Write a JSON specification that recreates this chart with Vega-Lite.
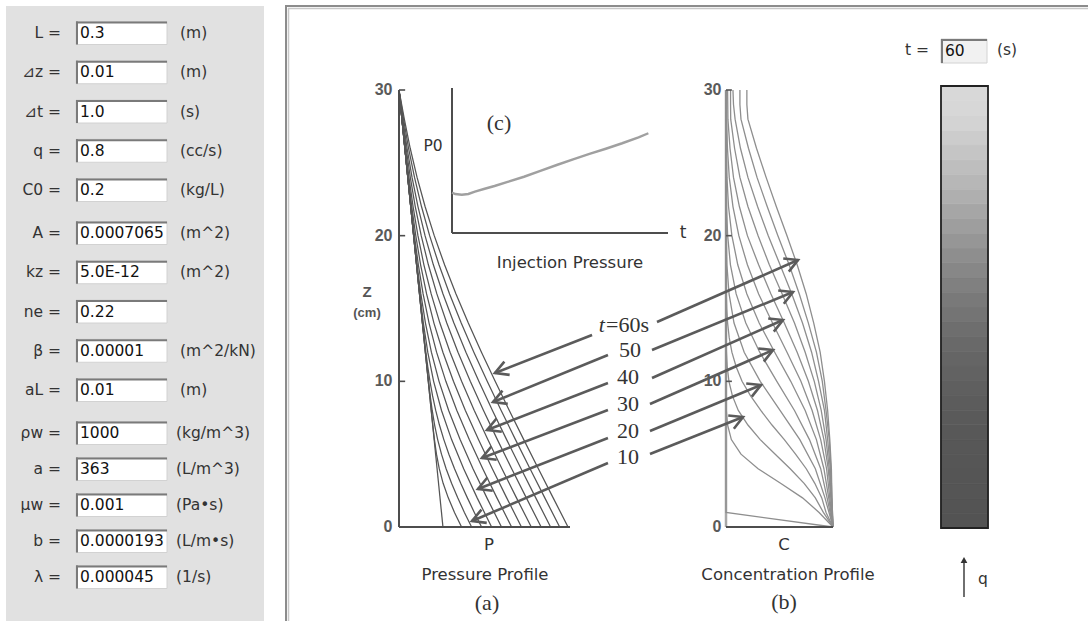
{
"$schema":"https://vega.github.io/schema/vega-lite/v6.json",
"width":1088,"height":621,"padding":0,"autosize":{"type":"none"},
"background":"#ffffff",
"config":{"view":{"stroke":null},"axis":{"disable":true},"legend":{"disable":true}},
"data":{"values":[{}]},
"datasets":{
"form":[
{"g":1,"i":0,"lab":"L  =","val":"0.3","unit":"(m)"},
{"g":1,"i":1,"lab":"⊿z =","val":"0.01","unit":"(m)"},
{"g":1,"i":2,"lab":"⊿t =","val":"1.0","unit":"(s)"},
{"g":1,"i":3,"lab":"q =","val":"0.8","unit":"(cc/s)"},
{"g":1,"i":4,"lab":"C0 =","val":"0.2","unit":"(kg/L)"},
{"g":2,"i":0,"lab":"A =","val":"0.0007065","unit":"(m^2)"},
{"g":2,"i":1,"lab":"kz =","val":"5.0E-12","unit":"(m^2)"},
{"g":2,"i":2,"lab":"ne =","val":"0.22","unit":""},
{"g":2,"i":3,"lab":"β  =","val":"0.00001","unit":"(m^2/kN)"},
{"g":2,"i":4,"lab":"aL =","val":"0.01","unit":"(m)"},
{"g":3,"i":0,"lab":"ρw =","val":"1000","unit":"(kg/m^3)"},
{"g":3,"i":1,"lab":"a =","val":"363","unit":"(L/m^3)"},
{"g":3,"i":2,"lab":"μw =","val":"0.001","unit":"(Pa•s)"},
{"g":3,"i":3,"lab":"b =","val":"0.0000193","unit":"(L/m•s)"},
{"g":3,"i":4,"lab":"λ  =","val":"0.000045","unit":"(1/s)"}
],
"pressure":[
{"t":0,"z":30,"p":0},{"t":0,"z":0,"p":25.7},
{"t":5,"z":30,"p":0},{"t":5,"z":9,"p":18.0},{"t":5,"z":8,"p":18.86},{"t":5,"z":7,"p":19.75},{"t":5,"z":6,"p":20.72},{"t":5,"z":5,"p":21.91},{"t":5,"z":4,"p":23.54},{"t":5,"z":3,"p":25.81},{"t":5,"z":2,"p":28.82},{"t":5,"z":1,"p":32.45},{"t":5,"z":0,"p":36.59},
{"t":10,"z":30,"p":0},{"t":10,"z":13,"p":14.57},{"t":10,"z":12,"p":15.43},{"t":10,"z":11,"p":16.32},{"t":10,"z":10,"p":17.24},{"t":10,"z":9,"p":18.25},{"t":10,"z":8,"p":19.42},{"t":10,"z":7,"p":20.84},{"t":10,"z":6,"p":22.61},{"t":10,"z":5,"p":24.84},{"t":10,"z":4,"p":27.55},{"t":10,"z":3,"p":30.74},{"t":10,"z":2,"p":34.34},{"t":10,"z":1,"p":38.25},{"t":10,"z":0,"p":42.46},
{"t":15,"z":30,"p":0},{"t":15,"z":17,"p":11.14},{"t":15,"z":16,"p":12.0},{"t":15,"z":15,"p":12.88},{"t":15,"z":14,"p":13.77},{"t":15,"z":13,"p":14.71},{"t":15,"z":12,"p":15.71},{"t":15,"z":11,"p":16.83},{"t":15,"z":10,"p":18.12},{"t":15,"z":9,"p":19.64},{"t":15,"z":8,"p":21.47},{"t":15,"z":7,"p":23.65},{"t":15,"z":6,"p":26.22},{"t":15,"z":5,"p":29.17},{"t":15,"z":4,"p":32.48},{"t":15,"z":3,"p":36.10},{"t":15,"z":2,"p":39.99},{"t":15,"z":1,"p":44.05},{"t":15,"z":0,"p":48.30},
{"t":20,"z":30,"p":0},{"t":20,"z":22,"p":6.86},{"t":20,"z":20,"p":8.58},{"t":20,"z":18,"p":10.33},{"t":20,"z":16,"p":12.17},{"t":20,"z":14,"p":14.25},{"t":20,"z":12,"p":16.82},{"t":20,"z":10,"p":20.25},{"t":20,"z":8,"p":24.86},{"t":20,"z":6,"p":30.76},{"t":20,"z":4,"p":37.82},{"t":20,"z":2,"p":45.71},{"t":20,"z":0,"p":54.16},
{"t":25,"z":30,"p":0},{"t":25,"z":26,"p":3.43},{"t":25,"z":24,"p":5.15},{"t":25,"z":22,"p":6.89},{"t":25,"z":20,"p":8.67},{"t":25,"z":18,"p":10.58},{"t":25,"z":16,"p":12.78},{"t":25,"z":14,"p":15.47},{"t":25,"z":12,"p":18.94},{"t":25,"z":10,"p":23.42},{"t":25,"z":8,"p":29.04},{"t":25,"z":6,"p":35.74},{"t":25,"z":4,"p":43.28},{"t":25,"z":2,"p":51.42},{"t":25,"z":0,"p":59.94},
{"t":30,"z":30,"p":0},{"t":30,"z":28,"p":1.72},{"t":30,"z":26,"p":3.45},{"t":30,"z":24,"p":5.20},{"t":30,"z":22,"p":7.03},{"t":30,"z":20,"p":9.02},{"t":30,"z":18,"p":11.31},{"t":30,"z":16,"p":14.10},{"t":30,"z":14,"p":17.58},{"t":30,"z":12,"p":21.97},{"t":30,"z":10,"p":27.40},{"t":30,"z":8,"p":33.83},{"t":30,"z":6,"p":41.10},{"t":30,"z":4,"p":48.98},{"t":30,"z":2,"p":57.27},{"t":30,"z":0,"p":65.85},
{"t":35,"z":30,"p":0},{"t":35,"z":28,"p":1.75},{"t":35,"z":26,"p":3.53},{"t":35,"z":24,"p":5.40},{"t":35,"z":22,"p":7.45},{"t":35,"z":20,"p":9.81},{"t":35,"z":18,"p":12.64},{"t":35,"z":16,"p":16.13},{"t":35,"z":14,"p":20.43},{"t":35,"z":12,"p":25.68},{"t":35,"z":10,"p":31.84},{"t":35,"z":8,"p":38.82},{"t":35,"z":6,"p":46.47},{"t":35,"z":4,"p":54.57},{"t":35,"z":2,"p":62.99},{"t":35,"z":0,"p":71.60},
{"t":40,"z":30,"p":0},{"t":40,"z":28,"p":1.83},{"t":40,"z":26,"p":3.74},{"t":40,"z":24,"p":5.83},{"t":40,"z":22,"p":8.23},{"t":40,"z":20,"p":11.08},{"t":40,"z":18,"p":14.56},{"t":40,"z":16,"p":18.82},{"t":40,"z":14,"p":23.91},{"t":40,"z":12,"p":29.87},{"t":40,"z":10,"p":36.61},{"t":40,"z":8,"p":44.02},{"t":40,"z":6,"p":51.94},{"t":40,"z":4,"p":60.21},{"t":40,"z":2,"p":68.71},{"t":40,"z":0,"p":77.36},
{"t":45,"z":30,"p":0},{"t":45,"z":28,"p":2.02},{"t":45,"z":26,"p":4.17},{"t":45,"z":24,"p":6.61},{"t":45,"z":22,"p":9.51},{"t":45,"z":20,"p":12.99},{"t":45,"z":18,"p":17.17},{"t":45,"z":16,"p":22.15},{"t":45,"z":14,"p":27.94},{"t":45,"z":12,"p":34.50},{"t":45,"z":10,"p":41.69},{"t":45,"z":8,"p":49.42},{"t":45,"z":6,"p":57.53},{"t":45,"z":4,"p":65.90},{"t":45,"z":2,"p":74.46},{"t":45,"z":0,"p":83.12},
{"t":50,"z":30,"p":0},{"t":50,"z":28,"p":2.24},{"t":50,"z":26,"p":4.73},{"t":50,"z":24,"p":7.63},{"t":50,"z":22,"p":11.10},{"t":50,"z":20,"p":15.23},{"t":50,"z":18,"p":20.09},{"t":50,"z":16,"p":25.74},{"t":50,"z":14,"p":32.11},{"t":50,"z":12,"p":39.14},{"t":50,"z":10,"p":46.69},{"t":50,"z":8,"p":54.65},{"t":50,"z":6,"p":62.93},{"t":50,"z":4,"p":71.39},{"t":50,"z":2,"p":79.98},{"t":50,"z":0,"p":88.64},
{"t":55,"z":30,"p":0},{"t":55,"z":28,"p":2.66},{"t":55,"z":26,"p":5.60},{"t":55,"z":24,"p":9.07},{"t":55,"z":22,"p":13.15},{"t":55,"z":20,"p":17.91},{"t":55,"z":18,"p":23.39},{"t":55,"z":16,"p":29.58},{"t":55,"z":14,"p":36.39},{"t":55,"z":12,"p":43.77},{"t":55,"z":10,"p":51.59},{"t":55,"z":8,"p":59.74},{"t":55,"z":6,"p":68.12},{"t":55,"z":4,"p":76.64},{"t":55,"z":2,"p":85.27},{"t":55,"z":0,"p":93.95},
{"t":60,"z":30,"p":0},{"t":60,"z":28,"p":3.12},{"t":60,"z":26,"p":6.55},{"t":60,"z":24,"p":10.57},{"t":60,"z":22,"p":15.25},{"t":60,"z":20,"p":20.61},{"t":60,"z":18,"p":26.65},{"t":60,"z":16,"p":33.33},{"t":60,"z":14,"p":40.54},{"t":60,"z":12,"p":48.22},{"t":60,"z":10,"p":56.24},{"t":60,"z":8,"p":64.50},{"t":60,"z":6,"p":72.95},{"t":60,"z":4,"p":81.51},{"t":60,"z":2,"p":90.16},{"t":60,"z":0,"p":98.84}
],
"conc":[
{"t":0,"z":0,"c":0.2},{"t":0,"z":1,"c":0},{"t":0,"z":30,"c":0},
{"t":5,"z":0,"c":0.2},{"t":5,"z":1,"c":0.174},{"t":5,"z":2,"c":0.143},{"t":5,"z":3,"c":0.102},{"t":5,"z":4,"c":0.060},{"t":5,"z":5,"c":0.028},{"t":5,"z":6,"c":0.010},{"t":5,"z":7,"c":0.003},{"t":5,"z":8,"c":0.0006},{"t":5,"z":9,"c":0},{"t":5,"z":30,"c":0},
{"t":10,"z":0,"c":0.2},{"t":10,"z":1,"c":0.182},{"t":10,"z":2,"c":0.167},{"t":10,"z":3,"c":0.146},{"t":10,"z":4,"c":0.120},{"t":10,"z":5,"c":0.092},{"t":10,"z":6,"c":0.064},{"t":10,"z":7,"c":0.041},{"t":10,"z":8,"c":0.023},{"t":10,"z":9,"c":0.012},{"t":10,"z":10,"c":0.0055},{"t":10,"z":11,"c":0.0023},{"t":10,"z":12,"c":0.0008},{"t":10,"z":13,"c":0},{"t":10,"z":30,"c":0},
{"t":15,"z":0,"c":0.2},{"t":15,"z":1,"c":0.187},{"t":15,"z":2,"c":0.179},{"t":15,"z":3,"c":0.166},{"t":15,"z":4,"c":0.150},{"t":15,"z":5,"c":0.130},{"t":15,"z":6,"c":0.109},{"t":15,"z":7,"c":0.086},{"t":15,"z":8,"c":0.065},{"t":15,"z":9,"c":0.046},{"t":15,"z":10,"c":0.030},{"t":15,"z":11,"c":0.019},{"t":15,"z":12,"c":0.011},{"t":15,"z":13,"c":0.006},{"t":15,"z":14,"c":0.003},{"t":15,"z":15,"c":0.0014},{"t":15,"z":16,"c":0.0005},{"t":15,"z":17,"c":0},{"t":15,"z":30,"c":0},
{"t":20,"z":0,"c":0.2},{"t":20,"z":2,"c":0.185},{"t":20,"z":4,"c":0.167},{"t":20,"z":6,"c":0.138},{"t":20,"z":8,"c":0.101},{"t":20,"z":10,"c":0.064},{"t":20,"z":12,"c":0.034},{"t":20,"z":14,"c":0.015},{"t":20,"z":16,"c":0.0057},{"t":20,"z":18,"c":0.0017},{"t":20,"z":20,"c":0.0004},{"t":20,"z":22,"c":0},{"t":20,"z":30,"c":0},
{"t":25,"z":0,"c":0.2},{"t":25,"z":2,"c":0.189},{"t":25,"z":4,"c":0.177},{"t":25,"z":6,"c":0.156},{"t":25,"z":8,"c":0.128},{"t":25,"z":10,"c":0.095},{"t":25,"z":12,"c":0.063},{"t":25,"z":14,"c":0.037},{"t":25,"z":16,"c":0.019},{"t":25,"z":18,"c":0.0083},{"t":25,"z":20,"c":0.0031},{"t":25,"z":22,"c":0.001},{"t":25,"z":24,"c":0.0003},{"t":25,"z":26,"c":0},{"t":25,"z":30,"c":0},
{"t":30,"z":0,"c":0.2},{"t":30,"z":2,"c":0.192},{"t":30,"z":4,"c":0.183},{"t":30,"z":6,"c":0.169},{"t":30,"z":8,"c":0.148},{"t":30,"z":10,"c":0.121},{"t":30,"z":12,"c":0.091},{"t":30,"z":14,"c":0.062},{"t":30,"z":16,"c":0.039},{"t":30,"z":18,"c":0.022},{"t":30,"z":20,"c":0.011},{"t":30,"z":22,"c":0.0047},{"t":30,"z":24,"c":0.0018},{"t":30,"z":26,"c":0.0006},{"t":30,"z":28,"c":0.0002},{"t":30,"z":30,"c":0.0002},
{"t":35,"z":0,"c":0.2},{"t":35,"z":2,"c":0.194},{"t":35,"z":4,"c":0.188},{"t":35,"z":6,"c":0.177},{"t":35,"z":8,"c":0.161},{"t":35,"z":10,"c":0.140},{"t":35,"z":12,"c":0.114},{"t":35,"z":14,"c":0.087},{"t":35,"z":16,"c":0.061},{"t":35,"z":18,"c":0.040},{"t":35,"z":20,"c":0.024},{"t":35,"z":22,"c":0.013},{"t":35,"z":24,"c":0.0061},{"t":35,"z":26,"c":0.0027},{"t":35,"z":28,"c":0.0011},{"t":35,"z":30,"c":0.0008},
{"t":40,"z":0,"c":0.2},{"t":40,"z":2,"c":0.196},{"t":40,"z":4,"c":0.191},{"t":40,"z":6,"c":0.183},{"t":40,"z":8,"c":0.171},{"t":40,"z":10,"c":0.154},{"t":40,"z":12,"c":0.133},{"t":40,"z":14,"c":0.109},{"t":40,"z":16,"c":0.084},{"t":40,"z":18,"c":0.061},{"t":40,"z":20,"c":0.040},{"t":40,"z":22,"c":0.025},{"t":40,"z":24,"c":0.014},{"t":40,"z":26,"c":0.0075},{"t":40,"z":28,"c":0.0036},{"t":40,"z":30,"c":0.003},
{"t":45,"z":0,"c":0.2},{"t":45,"z":2,"c":0.197},{"t":45,"z":4,"c":0.193},{"t":45,"z":6,"c":0.187},{"t":45,"z":8,"c":0.178},{"t":45,"z":10,"c":0.165},{"t":45,"z":12,"c":0.148},{"t":45,"z":14,"c":0.128},{"t":45,"z":16,"c":0.105},{"t":45,"z":18,"c":0.081},{"t":45,"z":20,"c":0.060},{"t":45,"z":22,"c":0.041},{"t":45,"z":24,"c":0.026},{"t":45,"z":26,"c":0.016},{"t":45,"z":28,"c":0.0088},{"t":45,"z":29,"c":0.0085},{"t":45,"z":30,"c":0.0085},
{"t":50,"z":0,"c":0.2},{"t":50,"z":2,"c":0.197},{"t":50,"z":4,"c":0.195},{"t":50,"z":6,"c":0.190},{"t":50,"z":8,"c":0.184},{"t":50,"z":10,"c":0.173},{"t":50,"z":12,"c":0.160},{"t":50,"z":14,"c":0.143},{"t":50,"z":16,"c":0.123},{"t":50,"z":18,"c":0.101},{"t":50,"z":20,"c":0.079},{"t":50,"z":22,"c":0.059},{"t":50,"z":24,"c":0.041},{"t":50,"z":26,"c":0.027},{"t":50,"z":28,"c":0.017},{"t":50,"z":29,"c":0.014},{"t":50,"z":30,"c":0.013},
{"t":55,"z":0,"c":0.2},{"t":55,"z":2,"c":0.198},{"t":55,"z":4,"c":0.196},{"t":55,"z":6,"c":0.193},{"t":55,"z":8,"c":0.187},{"t":55,"z":10,"c":0.180},{"t":55,"z":12,"c":0.169},{"t":55,"z":14,"c":0.154},{"t":55,"z":16,"c":0.137},{"t":55,"z":18,"c":0.118},{"t":55,"z":20,"c":0.097},{"t":55,"z":22,"c":0.077},{"t":55,"z":24,"c":0.058},{"t":55,"z":26,"c":0.042},{"t":55,"z":28,"c":0.028},{"t":55,"z":29,"c":0.026},{"t":55,"z":30,"c":0.026},
{"t":60,"z":0,"c":0.2},{"t":60,"z":2,"c":0.198},{"t":60,"z":4,"c":0.197},{"t":60,"z":6,"c":0.194},{"t":60,"z":8,"c":0.190},{"t":60,"z":10,"c":0.184},{"t":60,"z":12,"c":0.176},{"t":60,"z":14,"c":0.164},{"t":60,"z":16,"c":0.150},{"t":60,"z":18,"c":0.133},{"t":60,"z":20,"c":0.114},{"t":60,"z":22,"c":0.094},{"t":60,"z":24,"c":0.075},{"t":60,"z":26,"c":0.057},{"t":60,"z":28,"c":0.041},{"t":60,"z":29,"c":0.039},{"t":60,"z":30,"c":0.039}
],
"injection":[
{"t":0,"p0":27.8},{"t":1,"p0":26.9},{"t":3,"p0":26.4},{"t":5,"p0":26.9},{"t":7,"p0":28.5},{"t":10,"p0":30.5},{"t":13,"p0":32.4},{"t":17,"p0":35.2},{"t":22,"p0":38.8},{"t":27,"p0":42.9},{"t":32,"p0":46.9},{"t":37,"p0":50.8},{"t":42,"p0":54.5},{"t":47,"p0":58.1},{"t":52,"p0":61.9},{"t":57,"p0":66.0},{"t":60,"p0":68.8}
],
"column":[
{"z0":0,"z1":1,"c":0.1995},{"z0":1,"z1":2,"c":0.1985},{"z0":2,"z1":3,"c":0.198},{"z0":3,"z1":4,"c":0.1975},{"z0":4,"z1":5,"c":0.1965},{"z0":5,"z1":6,"c":0.195},{"z0":6,"z1":7,"c":0.1935},{"z0":7,"z1":8,"c":0.1915},{"z0":8,"z1":9,"c":0.189},{"z0":9,"z1":10,"c":0.186},{"z0":10,"z1":11,"c":0.182},{"z0":11,"z1":12,"c":0.178},{"z0":12,"z1":13,"c":0.173},{"z0":13,"z1":14,"c":0.167},{"z0":14,"z1":15,"c":0.1605},{"z0":15,"z1":16,"c":0.1535},{"z0":16,"z1":17,"c":0.1455},{"z0":17,"z1":18,"c":0.137},{"z0":18,"z1":19,"c":0.128},{"z0":19,"z1":20,"c":0.1185},{"z0":20,"z1":21,"c":0.109},{"z0":21,"z1":22,"c":0.099},{"z0":22,"z1":23,"c":0.089},{"z0":23,"z1":24,"c":0.0795},{"z0":24,"z1":25,"c":0.0705},{"z0":25,"z1":26,"c":0.0615},{"z0":26,"z1":27,"c":0.053},{"z0":27,"z1":28,"c":0.045},{"z0":28,"z1":29,"c":0.040},{"z0":29,"z1":30,"c":0.039}
],
"arrowsP":[
{"t":60,"p0":112.9,"z0":13.18,"p1":56.1,"z1":10.57},
{"t":50,"p0":122.2,"z0":11.81,"p1":55.0,"z1":8.58},
{"t":40,"p0":122.2,"z0":9.89,"p1":51.5,"z1":6.66},
{"t":30,"p0":122.2,"z0":8.03,"p1":48.5,"z1":4.74},
{"t":20,"p0":122.2,"z0":6.11,"p1":46.2,"z1":2.61},
{"t":10,"p0":122.2,"z0":4.39,"p1":42.7,"z1":0.41}
],
"arrowsC":[
{"t":60,"c0":-0.129,"z0":14.07,"c1":0.1346,"z1":18.33},
{"t":50,"c0":-0.1383,"z0":12.15,"c1":0.1252,"z1":16.13},
{"t":40,"c0":-0.1383,"z0":10.23,"c1":0.1065,"z1":14.21},
{"t":30,"c0":-0.1421,"z0":8.44,"c1":0.0879,"z1":12.15},
{"t":20,"c0":-0.1421,"z0":6.59,"c1":0.0654,"z1":9.75},
{"t":10,"c0":-0.1421,"z0":5.01,"c1":0.0318,"z1":7.55}
],
"arrowLabels":[
{"lab":"50","c":-0.1794,"z":12.15},
{"lab":"40","c":-0.1832,"z":10.30},
{"lab":"30","c":-0.1832,"z":8.44},
{"lab":"20","c":-0.1832,"z":6.59},
{"lab":"10","c":-0.1832,"z":4.81}
]
},
"layer":[
{"layer":[
 {"mark":{"type":"rect","fill":"#e1e1e1"},"encoding":{"x":{"datum":6,"type":"quantitative","scale":{"type":"linear","domain":[0,1088],"range":[0,1088],"nice":false,"zero":false}},"x2":{"datum":264},"y":{"datum":6,"type":"quantitative","scale":{"type":"linear","domain":[0,621],"range":[0,621],"nice":false,"zero":false}},"y2":{"datum":621}}},
 {"mark":{"type":"rule","stroke":"#8c8c8c","strokeWidth":2},"encoding":{"x":{"datum":286,"type":"quantitative","scale":{"type":"linear","domain":[0,1088],"range":[0,1088],"nice":false,"zero":false}},"y":{"datum":6,"type":"quantitative","scale":{"type":"linear","domain":[0,621],"range":[0,621],"nice":false,"zero":false}},"y2":{"datum":621}}},
 {"mark":{"type":"rule","stroke":"#c8c8c8","strokeWidth":1.5},"encoding":{"x":{"datum":288.5,"type":"quantitative","scale":{"type":"linear","domain":[0,1088],"range":[0,1088],"nice":false,"zero":false}},"y":{"datum":8,"type":"quantitative","scale":{"type":"linear","domain":[0,621],"range":[0,621],"nice":false,"zero":false}},"y2":{"datum":621}}},
 {"mark":{"type":"rule","stroke":"#8c8c8c","strokeWidth":2},"encoding":{"x":{"datum":285,"type":"quantitative","scale":{"type":"linear","domain":[0,1088],"range":[0,1088],"nice":false,"zero":false}},"x2":{"datum":1088},"y":{"datum":6,"type":"quantitative","scale":{"type":"linear","domain":[0,621],"range":[0,621],"nice":false,"zero":false}}}},
 {"mark":{"type":"rule","stroke":"#c8c8c8","strokeWidth":1.5},"encoding":{"x":{"datum":288,"type":"quantitative","scale":{"type":"linear","domain":[0,1088],"range":[0,1088],"nice":false,"zero":false}},"x2":{"datum":1088},"y":{"datum":8.5,"type":"quantitative","scale":{"type":"linear","domain":[0,621],"range":[0,621],"nice":false,"zero":false}}}}
]},
{"data":{"name":"form"},"transform":[{"filter":"datum.g == 1"}],"layer":[
 {"mark":{"type":"rect","fill":"#ffffff","stroke":"#d2d2d2","strokeWidth":1,"yOffset":-11.5,"y2Offset":11.5},"encoding":{"x":{"datum":76,"type":"quantitative","scale":{"type":"linear","domain":[0,1088],"range":[0,1088],"nice":false,"zero":false}},"x2":{"datum":167},"y":{"field":"i","type":"quantitative","scale":{"type":"linear","domain":[0,4],"range":[33,190],"nice":false,"zero":false}},"y2":{"field":"i"}}},
 {"mark":{"type":"rule","stroke":"#7a7a7a","strokeWidth":2,"yOffset":-10.5},"encoding":{"x":{"datum":76,"type":"quantitative","scale":{"type":"linear","domain":[0,1088],"range":[0,1088],"nice":false,"zero":false}},"x2":{"datum":167},"y":{"field":"i","type":"quantitative","scale":{"type":"linear","domain":[0,4],"range":[33,190],"nice":false,"zero":false}}}},
 {"mark":{"type":"rule","stroke":"#7a7a7a","strokeWidth":2,"yOffset":-11.5,"y2Offset":11.5},"encoding":{"x":{"datum":77,"type":"quantitative","scale":{"type":"linear","domain":[0,1088],"range":[0,1088],"nice":false,"zero":false}},"y":{"field":"i","type":"quantitative","scale":{"type":"linear","domain":[0,4],"range":[33,190],"nice":false,"zero":false}},"y2":{"field":"i"}}},
 {"mark":{"type":"text","align":"right","baseline":"middle","font":"DejaVu Sans","fontSize":15.5,"color":"#333333"},"encoding":{"x":{"datum":61,"type":"quantitative","scale":{"type":"linear","domain":[0,1088],"range":[0,1088],"nice":false,"zero":false}},"y":{"field":"i","type":"quantitative","scale":{"type":"linear","domain":[0,4],"range":[33,190],"nice":false,"zero":false}},"text":{"field":"lab"}}},
 {"mark":{"type":"text","align":"left","baseline":"middle","font":"DejaVu Sans","fontSize":15.5,"color":"#111111"},"encoding":{"x":{"datum":80,"type":"quantitative","scale":{"type":"linear","domain":[0,1088],"range":[0,1088],"nice":false,"zero":false}},"y":{"field":"i","type":"quantitative","scale":{"type":"linear","domain":[0,4],"range":[33,190],"nice":false,"zero":false}},"text":{"field":"val"}}},
 {"mark":{"type":"text","align":"left","baseline":"middle","font":"DejaVu Sans","fontSize":15.5,"color":"#333333"},"encoding":{"x":{"datum":180,"type":"quantitative","scale":{"type":"linear","domain":[0,1088],"range":[0,1088],"nice":false,"zero":false}},"y":{"field":"i","type":"quantitative","scale":{"type":"linear","domain":[0,4],"range":[33,190],"nice":false,"zero":false}},"text":{"field":"unit"}}}
]},
{"data":{"name":"form"},"transform":[{"filter":"datum.g == 2"}],"layer":[
 {"mark":{"type":"rect","fill":"#ffffff","stroke":"#d2d2d2","strokeWidth":1,"yOffset":-11.5,"y2Offset":11.5},"encoding":{"x":{"datum":76,"type":"quantitative","scale":{"type":"linear","domain":[0,1088],"range":[0,1088],"nice":false,"zero":false}},"x2":{"datum":167},"y":{"field":"i","type":"quantitative","scale":{"type":"linear","domain":[0,4],"range":[233,390],"nice":false,"zero":false}},"y2":{"field":"i"}}},
 {"mark":{"type":"rule","stroke":"#7a7a7a","strokeWidth":2,"yOffset":-10.5},"encoding":{"x":{"datum":76,"type":"quantitative","scale":{"type":"linear","domain":[0,1088],"range":[0,1088],"nice":false,"zero":false}},"x2":{"datum":167},"y":{"field":"i","type":"quantitative","scale":{"type":"linear","domain":[0,4],"range":[233,390],"nice":false,"zero":false}}}},
 {"mark":{"type":"rule","stroke":"#7a7a7a","strokeWidth":2,"yOffset":-11.5,"y2Offset":11.5},"encoding":{"x":{"datum":77,"type":"quantitative","scale":{"type":"linear","domain":[0,1088],"range":[0,1088],"nice":false,"zero":false}},"y":{"field":"i","type":"quantitative","scale":{"type":"linear","domain":[0,4],"range":[233,390],"nice":false,"zero":false}},"y2":{"field":"i"}}},
 {"mark":{"type":"text","align":"right","baseline":"middle","font":"DejaVu Sans","fontSize":15.5,"color":"#333333"},"encoding":{"x":{"datum":61,"type":"quantitative","scale":{"type":"linear","domain":[0,1088],"range":[0,1088],"nice":false,"zero":false}},"y":{"field":"i","type":"quantitative","scale":{"type":"linear","domain":[0,4],"range":[233,390],"nice":false,"zero":false}},"text":{"field":"lab"}}},
 {"mark":{"type":"text","align":"left","baseline":"middle","font":"DejaVu Sans","fontSize":15.5,"color":"#111111"},"encoding":{"x":{"datum":80,"type":"quantitative","scale":{"type":"linear","domain":[0,1088],"range":[0,1088],"nice":false,"zero":false}},"y":{"field":"i","type":"quantitative","scale":{"type":"linear","domain":[0,4],"range":[233,390],"nice":false,"zero":false}},"text":{"field":"val"}}},
 {"mark":{"type":"text","align":"left","baseline":"middle","font":"DejaVu Sans","fontSize":15.5,"color":"#333333"},"encoding":{"x":{"datum":180,"type":"quantitative","scale":{"type":"linear","domain":[0,1088],"range":[0,1088],"nice":false,"zero":false}},"y":{"field":"i","type":"quantitative","scale":{"type":"linear","domain":[0,4],"range":[233,390],"nice":false,"zero":false}},"text":{"field":"unit"}}}
]},
{"data":{"name":"form"},"transform":[{"filter":"datum.g == 3"}],"layer":[
 {"mark":{"type":"rect","fill":"#ffffff","stroke":"#d2d2d2","strokeWidth":1,"yOffset":-11.5,"y2Offset":11.5},"encoding":{"x":{"datum":76,"type":"quantitative","scale":{"type":"linear","domain":[0,1088],"range":[0,1088],"nice":false,"zero":false}},"x2":{"datum":167},"y":{"field":"i","type":"quantitative","scale":{"type":"linear","domain":[0,4],"range":[433,577],"nice":false,"zero":false}},"y2":{"field":"i"}}},
 {"mark":{"type":"rule","stroke":"#7a7a7a","strokeWidth":2,"yOffset":-10.5},"encoding":{"x":{"datum":76,"type":"quantitative","scale":{"type":"linear","domain":[0,1088],"range":[0,1088],"nice":false,"zero":false}},"x2":{"datum":167},"y":{"field":"i","type":"quantitative","scale":{"type":"linear","domain":[0,4],"range":[433,577],"nice":false,"zero":false}}}},
 {"mark":{"type":"rule","stroke":"#7a7a7a","strokeWidth":2,"yOffset":-11.5,"y2Offset":11.5},"encoding":{"x":{"datum":77,"type":"quantitative","scale":{"type":"linear","domain":[0,1088],"range":[0,1088],"nice":false,"zero":false}},"y":{"field":"i","type":"quantitative","scale":{"type":"linear","domain":[0,4],"range":[433,577],"nice":false,"zero":false}},"y2":{"field":"i"}}},
 {"mark":{"type":"text","align":"right","baseline":"middle","font":"DejaVu Sans","fontSize":15.5,"color":"#333333"},"encoding":{"x":{"datum":61,"type":"quantitative","scale":{"type":"linear","domain":[0,1088],"range":[0,1088],"nice":false,"zero":false}},"y":{"field":"i","type":"quantitative","scale":{"type":"linear","domain":[0,4],"range":[433,577],"nice":false,"zero":false}},"text":{"field":"lab"}}},
 {"mark":{"type":"text","align":"left","baseline":"middle","font":"DejaVu Sans","fontSize":15.5,"color":"#111111"},"encoding":{"x":{"datum":80,"type":"quantitative","scale":{"type":"linear","domain":[0,1088],"range":[0,1088],"nice":false,"zero":false}},"y":{"field":"i","type":"quantitative","scale":{"type":"linear","domain":[0,4],"range":[433,577],"nice":false,"zero":false}},"text":{"field":"val"}}},
 {"mark":{"type":"text","align":"left","baseline":"middle","font":"DejaVu Sans","fontSize":15.5,"color":"#333333"},"encoding":{"x":{"datum":176,"type":"quantitative","scale":{"type":"linear","domain":[0,1088],"range":[0,1088],"nice":false,"zero":false}},"y":{"field":"i","type":"quantitative","scale":{"type":"linear","domain":[0,4],"range":[433,577],"nice":false,"zero":false}},"text":{"field":"unit"}}}
]},
{"layer":[
 {"data":{"name":"pressure"},"mark":{"type":"line","color":"#555555","strokeWidth":1.25},"encoding":{"x":{"field":"p","type":"quantitative","scale":{"type":"linear","domain":[0,100],"range":[399,570],"nice":false,"zero":false}},"y":{"field":"z","type":"quantitative","scale":{"type":"linear","domain":[0,30],"range":[527,90],"nice":false,"zero":false}},"detail":{"field":"t"},"order":{"field":"z","type":"quantitative"}}},
 {"mark":{"type":"rule","color":"#4d4d4d","strokeWidth":2},"encoding":{"x":{"datum":0,"type":"quantitative","scale":{"type":"linear","domain":[0,100],"range":[399,570],"nice":false,"zero":false}},"y":{"datum":0,"type":"quantitative","scale":{"type":"linear","domain":[0,30],"range":[527,90],"nice":false,"zero":false}},"y2":{"datum":30}}},
 {"mark":{"type":"rule","color":"#4d4d4d","strokeWidth":2},"encoding":{"x":{"datum":0,"type":"quantitative","scale":{"type":"linear","domain":[0,100],"range":[399,570],"nice":false,"zero":false}},"x2":{"datum":100},"y":{"datum":0,"type":"quantitative","scale":{"type":"linear","domain":[0,30],"range":[527,90],"nice":false,"zero":false}}}},
 {"data":{"values":[{"v":10},{"v":20},{"v":30}]},"mark":{"type":"rule","color":"#4d4d4d","strokeWidth":1.6},"encoding":{"x":{"datum":0,"type":"quantitative","scale":{"type":"linear","domain":[0,100],"range":[399,570],"nice":false,"zero":false}},"x2":{"datum":3.6},"y":{"field":"v","type":"quantitative","scale":{"type":"linear","domain":[0,30],"range":[527,90],"nice":false,"zero":false}}}},
 {"data":{"values":[{"v":0},{"v":10},{"v":20},{"v":30}]},"mark":{"type":"text","align":"right","baseline":"middle","font":"Liberation Sans","fontWeight":"bold","fontSize":16,"color":"#5a5a5a"},"encoding":{"x":{"datum":-3.8,"type":"quantitative","scale":{"type":"linear","domain":[0,100],"range":[399,570],"nice":false,"zero":false}},"y":{"field":"v","type":"quantitative","scale":{"type":"linear","domain":[0,30],"range":[527,90],"nice":false,"zero":false}},"text":{"field":"v"}}},
 {"data":{"name":"arrowsP"},"mark":{"type":"rule","color":"#5b5b5b","strokeWidth":2.6},"encoding":{"x":{"field":"p0","type":"quantitative","scale":{"type":"linear","domain":[0,100],"range":[399,570],"nice":false,"zero":false}},"x2":{"field":"p1"},"y":{"field":"z0","type":"quantitative","scale":{"type":"linear","domain":[0,30],"range":[527,90],"nice":false,"zero":false}},"y2":{"field":"z1"}}},
 {"data":{"name":"arrowsP"},"mark":{"type":"point","shape":"M-1,-0.55L0,0L-1,0.55","filled":false,"size":676,"angle":158.3,"color":"#5b5b5b","strokeWidth":2.6,"opacity":1,"strokeJoin":"miter"},"encoding":{"x":{"field":"p1","type":"quantitative","scale":{"type":"linear","domain":[0,100],"range":[399,570],"nice":false,"zero":false}},"y":{"field":"z1","type":"quantitative","scale":{"type":"linear","domain":[0,30],"range":[527,90],"nice":false,"zero":false}}}}
]},
{"layer":[
 {"mark":{"type":"rule","color":"#a8a8a8","strokeWidth":2.5},"encoding":{"x":{"datum":0,"type":"quantitative","scale":{"type":"linear","domain":[0,0.2],"range":[726,833],"nice":false,"zero":false}},"y":{"datum":0,"type":"quantitative","scale":{"type":"linear","domain":[0,30],"range":[527,90],"nice":false,"zero":false}},"y2":{"datum":30}}},
 {"data":{"name":"conc"},"mark":{"type":"line","color":"#8e8e8e","strokeWidth":1.3},"encoding":{"x":{"field":"c","type":"quantitative","scale":{"type":"linear","domain":[0,0.2],"range":[726,833],"nice":false,"zero":false}},"y":{"field":"z","type":"quantitative","scale":{"type":"linear","domain":[0,30],"range":[527,90],"nice":false,"zero":false}},"detail":{"field":"t"},"order":{"field":"z","type":"quantitative"}}},
 {"mark":{"type":"rule","color":"#4d4d4d","strokeWidth":2},"encoding":{"x":{"datum":0,"type":"quantitative","scale":{"type":"linear","domain":[0,0.2],"range":[726,833],"nice":false,"zero":false}},"x2":{"datum":0.2},"y":{"datum":0,"type":"quantitative","scale":{"type":"linear","domain":[0,30],"range":[527,90],"nice":false,"zero":false}}}},
 {"data":{"values":[{"v":10},{"v":20},{"v":30}]},"mark":{"type":"rule","color":"#555555","strokeWidth":1.6},"encoding":{"x":{"datum":0,"type":"quantitative","scale":{"type":"linear","domain":[0,0.2],"range":[726,833],"nice":false,"zero":false}},"x2":{"datum":0.011},"y":{"field":"v","type":"quantitative","scale":{"type":"linear","domain":[0,30],"range":[527,90],"nice":false,"zero":false}}}},
 {"data":{"values":[{"v":0},{"v":10},{"v":20},{"v":30}]},"mark":{"type":"text","align":"right","baseline":"middle","font":"Liberation Sans","fontWeight":"bold","fontSize":16,"color":"#5a5a5a"},"encoding":{"x":{"datum":-0.0085,"type":"quantitative","scale":{"type":"linear","domain":[0,0.2],"range":[726,833],"nice":false,"zero":false}},"y":{"field":"v","type":"quantitative","scale":{"type":"linear","domain":[0,30],"range":[527,90],"nice":false,"zero":false}},"text":{"field":"v"}}},
 {"data":{"name":"arrowsC"},"mark":{"type":"rule","color":"#5b5b5b","strokeWidth":2.6},"encoding":{"x":{"field":"c0","type":"quantitative","scale":{"type":"linear","domain":[0,0.2],"range":[726,833],"nice":false,"zero":false}},"x2":{"field":"c1"},"y":{"field":"z0","type":"quantitative","scale":{"type":"linear","domain":[0,30],"range":[527,90],"nice":false,"zero":false}},"y2":{"field":"z1"}}},
 {"data":{"name":"arrowsC"},"mark":{"type":"point","shape":"M-1,-0.55L0,0L-1,0.55","filled":false,"size":676,"angle":-23,"color":"#5b5b5b","strokeWidth":2.6,"opacity":1,"strokeJoin":"miter"},"encoding":{"x":{"field":"c1","type":"quantitative","scale":{"type":"linear","domain":[0,0.2],"range":[726,833],"nice":false,"zero":false}},"y":{"field":"z1","type":"quantitative","scale":{"type":"linear","domain":[0,30],"range":[527,90],"nice":false,"zero":false}}}},
 {"data":{"name":"arrowLabels"},"mark":{"type":"text","align":"center","baseline":"middle","font":"Liberation Serif","fontSize":22,"color":"#333333"},"encoding":{"x":{"field":"c","type":"quantitative","scale":{"type":"linear","domain":[0,0.2],"range":[726,833],"nice":false,"zero":false}},"y":{"field":"z","type":"quantitative","scale":{"type":"linear","domain":[0,30],"range":[527,90],"nice":false,"zero":false}},"text":{"field":"lab"}}},
 {"mark":{"type":"text","text":"=60s","align":"left","baseline":"middle","font":"Liberation Serif","fontSize":22,"color":"#333333"},"encoding":{"x":{"datum":-0.2243,"type":"quantitative","scale":{"type":"linear","domain":[0,0.2],"range":[726,833],"nice":false,"zero":false}},"y":{"datum":13.87,"type":"quantitative","scale":{"type":"linear","domain":[0,30],"range":[527,90],"nice":false,"zero":false}}}},
 {"mark":{"type":"text","text":"t","align":"right","baseline":"middle","font":"Liberation Serif","fontStyle":"italic","fontSize":22,"color":"#333333","dx":-1},"encoding":{"x":{"datum":-0.2243,"type":"quantitative","scale":{"type":"linear","domain":[0,0.2],"range":[726,833],"nice":false,"zero":false}},"y":{"datum":13.87,"type":"quantitative","scale":{"type":"linear","domain":[0,30],"range":[527,90],"nice":false,"zero":false}}}}
]},
{"layer":[
 {"mark":{"type":"rule","color":"#4d4d4d","strokeWidth":2},"encoding":{"x":{"datum":0,"type":"quantitative","scale":{"type":"linear","domain":[0,66],"range":[452,668],"nice":false,"zero":false}},"y":{"datum":0,"type":"quantitative","scale":{"type":"linear","domain":[0,100],"range":[233,88],"nice":false,"zero":false}},"y2":{"datum":100}}},
 {"mark":{"type":"rule","color":"#4d4d4d","strokeWidth":2},"encoding":{"x":{"datum":0,"type":"quantitative","scale":{"type":"linear","domain":[0,66],"range":[452,668],"nice":false,"zero":false}},"x2":{"datum":66},"y":{"datum":0,"type":"quantitative","scale":{"type":"linear","domain":[0,100],"range":[233,88],"nice":false,"zero":false}}}},
 {"data":{"name":"injection"},"mark":{"type":"line","color":"#a0a0a0","strokeWidth":2.4},"encoding":{"x":{"field":"t","type":"quantitative","scale":{"type":"linear","domain":[0,66],"range":[452,668],"nice":false,"zero":false}},"y":{"field":"p0","type":"quantitative","scale":{"type":"linear","domain":[0,100],"range":[233,88],"nice":false,"zero":false}},"order":{"field":"t","type":"quantitative"}}}
]},
{"layer":[
 {"data":{"name":"column"},"mark":{"type":"rect","strokeWidth":0.8},"encoding":{"x":{"datum":0,"type":"quantitative","scale":{"type":"linear","domain":[0,1],"range":[941,988],"nice":false,"zero":false}},"x2":{"datum":1},"y":{"field":"z0","type":"quantitative","scale":{"type":"linear","domain":[0,30],"range":[528,86],"nice":false,"zero":false}},"y2":{"field":"z1"},"color":{"field":"c","type":"quantitative","legend":null,"scale":{"type":"linear","domain":[0.039,0.2],"range":["#d8d8d8","#535353"],"clamp":true,"interpolate":"rgb"}},"stroke":{"field":"c","type":"quantitative","legend":null,"scale":{"type":"linear","domain":[0.039,0.2],"range":["#d8d8d8","#535353"],"clamp":true,"interpolate":"rgb"}}}},
 {"mark":{"type":"rect","fill":"#ffffff","fillOpacity":0,"stroke":"#222222","strokeWidth":1.8},"encoding":{"x":{"datum":0,"type":"quantitative","scale":{"type":"linear","domain":[0,1],"range":[941,988],"nice":false,"zero":false}},"x2":{"datum":1},"y":{"datum":0,"type":"quantitative","scale":{"type":"linear","domain":[0,30],"range":[528,86],"nice":false,"zero":false}},"y2":{"datum":30}}}
]},
{"layer":[
 {"mark":{"type":"text","text":"Z","font":"Liberation Sans","fontWeight":"bold","fontSize":15,"color":"#555555"},"encoding":{"x":{"datum":367,"type":"quantitative","scale":{"type":"linear","domain":[0,1088],"range":[0,1088],"nice":false,"zero":false}},"y":{"datum":292,"type":"quantitative","scale":{"type":"linear","domain":[0,621],"range":[0,621],"nice":false,"zero":false}}}},
 {"mark":{"type":"text","text":"(cm)","font":"Liberation Sans","fontWeight":"bold","fontSize":13,"color":"#555555"},"encoding":{"x":{"datum":367,"type":"quantitative","scale":{"type":"linear","domain":[0,1088],"range":[0,1088],"nice":false,"zero":false}},"y":{"datum":313,"type":"quantitative","scale":{"type":"linear","domain":[0,621],"range":[0,621],"nice":false,"zero":false}}}},
 {"mark":{"type":"text","text":"P0","font":"DejaVu Sans","fontSize":15.5,"color":"#333333"},"encoding":{"x":{"datum":433,"type":"quantitative","scale":{"type":"linear","domain":[0,1088],"range":[0,1088],"nice":false,"zero":false}},"y":{"datum":146,"type":"quantitative","scale":{"type":"linear","domain":[0,621],"range":[0,621],"nice":false,"zero":false}}}},
 {"mark":{"type":"text","text":"(c)","font":"Liberation Serif","fontSize":22,"color":"#333333"},"encoding":{"x":{"datum":499,"type":"quantitative","scale":{"type":"linear","domain":[0,1088],"range":[0,1088],"nice":false,"zero":false}},"y":{"datum":123,"type":"quantitative","scale":{"type":"linear","domain":[0,621],"range":[0,621],"nice":false,"zero":false}}}},
 {"mark":{"type":"text","text":"t","font":"DejaVu Sans","fontSize":17,"color":"#333333"},"encoding":{"x":{"datum":683,"type":"quantitative","scale":{"type":"linear","domain":[0,1088],"range":[0,1088],"nice":false,"zero":false}},"y":{"datum":233,"type":"quantitative","scale":{"type":"linear","domain":[0,621],"range":[0,621],"nice":false,"zero":false}}}},
 {"mark":{"type":"text","text":"Injection Pressure","font":"DejaVu Sans","fontSize":16.5,"color":"#333333"},"encoding":{"x":{"datum":570,"type":"quantitative","scale":{"type":"linear","domain":[0,1088],"range":[0,1088],"nice":false,"zero":false}},"y":{"datum":263,"type":"quantitative","scale":{"type":"linear","domain":[0,621],"range":[0,621],"nice":false,"zero":false}}}},
 {"mark":{"type":"text","text":"P","font":"DejaVu Sans","fontSize":16.5,"color":"#333333"},"encoding":{"x":{"datum":489,"type":"quantitative","scale":{"type":"linear","domain":[0,1088],"range":[0,1088],"nice":false,"zero":false}},"y":{"datum":545,"type":"quantitative","scale":{"type":"linear","domain":[0,621],"range":[0,621],"nice":false,"zero":false}}}},
 {"mark":{"type":"text","text":"Pressure Profile","font":"DejaVu Sans","fontSize":16.5,"color":"#333333"},"encoding":{"x":{"datum":485,"type":"quantitative","scale":{"type":"linear","domain":[0,1088],"range":[0,1088],"nice":false,"zero":false}},"y":{"datum":575,"type":"quantitative","scale":{"type":"linear","domain":[0,621],"range":[0,621],"nice":false,"zero":false}}}},
 {"mark":{"type":"text","text":"(a)","font":"Liberation Serif","fontSize":22,"color":"#333333"},"encoding":{"x":{"datum":487,"type":"quantitative","scale":{"type":"linear","domain":[0,1088],"range":[0,1088],"nice":false,"zero":false}},"y":{"datum":603,"type":"quantitative","scale":{"type":"linear","domain":[0,621],"range":[0,621],"nice":false,"zero":false}}}},
 {"mark":{"type":"text","text":"C","font":"DejaVu Sans","fontSize":16.5,"color":"#333333"},"encoding":{"x":{"datum":784,"type":"quantitative","scale":{"type":"linear","domain":[0,1088],"range":[0,1088],"nice":false,"zero":false}},"y":{"datum":545,"type":"quantitative","scale":{"type":"linear","domain":[0,621],"range":[0,621],"nice":false,"zero":false}}}},
 {"mark":{"type":"text","text":"Concentration Profile","font":"DejaVu Sans","fontSize":16.5,"color":"#333333"},"encoding":{"x":{"datum":788,"type":"quantitative","scale":{"type":"linear","domain":[0,1088],"range":[0,1088],"nice":false,"zero":false}},"y":{"datum":575,"type":"quantitative","scale":{"type":"linear","domain":[0,621],"range":[0,621],"nice":false,"zero":false}}}},
 {"mark":{"type":"text","text":"(b)","font":"Liberation Serif","fontSize":22,"color":"#333333"},"encoding":{"x":{"datum":784,"type":"quantitative","scale":{"type":"linear","domain":[0,1088],"range":[0,1088],"nice":false,"zero":false}},"y":{"datum":602,"type":"quantitative","scale":{"type":"linear","domain":[0,621],"range":[0,621],"nice":false,"zero":false}}}},
 {"mark":{"type":"text","text":"t =","align":"right","font":"DejaVu Sans","fontSize":15.5,"color":"#333333"},"encoding":{"x":{"datum":929,"type":"quantitative","scale":{"type":"linear","domain":[0,1088],"range":[0,1088],"nice":false,"zero":false}},"y":{"datum":50,"type":"quantitative","scale":{"type":"linear","domain":[0,621],"range":[0,621],"nice":false,"zero":false}}}},
 {"mark":{"type":"rect","fill":"#f1f1f1","stroke":"#d2d2d2","strokeWidth":1},"encoding":{"x":{"datum":941,"type":"quantitative","scale":{"type":"linear","domain":[0,1088],"range":[0,1088],"nice":false,"zero":false}},"x2":{"datum":987},"y":{"datum":39,"type":"quantitative","scale":{"type":"linear","domain":[0,621],"range":[0,621],"nice":false,"zero":false}},"y2":{"datum":63}}},
 {"mark":{"type":"rule","stroke":"#7a7a7a","strokeWidth":2},"encoding":{"x":{"datum":941,"type":"quantitative","scale":{"type":"linear","domain":[0,1088],"range":[0,1088],"nice":false,"zero":false}},"x2":{"datum":987},"y":{"datum":40,"type":"quantitative","scale":{"type":"linear","domain":[0,621],"range":[0,621],"nice":false,"zero":false}}}},
 {"mark":{"type":"rule","stroke":"#7a7a7a","strokeWidth":2},"encoding":{"x":{"datum":942,"type":"quantitative","scale":{"type":"linear","domain":[0,1088],"range":[0,1088],"nice":false,"zero":false}},"y":{"datum":39,"type":"quantitative","scale":{"type":"linear","domain":[0,621],"range":[0,621],"nice":false,"zero":false}},"y2":{"datum":63}}},
 {"mark":{"type":"text","text":"60","align":"left","font":"DejaVu Sans","fontSize":15.5,"color":"#111111"},"encoding":{"x":{"datum":945,"type":"quantitative","scale":{"type":"linear","domain":[0,1088],"range":[0,1088],"nice":false,"zero":false}},"y":{"datum":51,"type":"quantitative","scale":{"type":"linear","domain":[0,621],"range":[0,621],"nice":false,"zero":false}}}},
 {"mark":{"type":"text","text":"(s)","align":"left","font":"DejaVu Sans","fontSize":15.5,"color":"#333333"},"encoding":{"x":{"datum":997,"type":"quantitative","scale":{"type":"linear","domain":[0,1088],"range":[0,1088],"nice":false,"zero":false}},"y":{"datum":50,"type":"quantitative","scale":{"type":"linear","domain":[0,621],"range":[0,621],"nice":false,"zero":false}}}},
 {"mark":{"type":"rule","stroke":"#333333","strokeWidth":1.4},"encoding":{"x":{"datum":964,"type":"quantitative","scale":{"type":"linear","domain":[0,1088],"range":[0,1088],"nice":false,"zero":false}},"y":{"datum":597,"type":"quantitative","scale":{"type":"linear","domain":[0,621],"range":[0,621],"nice":false,"zero":false}},"y2":{"datum":559}}},
 {"mark":{"type":"point","shape":"triangle-up","filled":true,"size":45,"color":"#333333","opacity":1},"encoding":{"x":{"datum":964,"type":"quantitative","scale":{"type":"linear","domain":[0,1088],"range":[0,1088],"nice":false,"zero":false}},"y":{"datum":560,"type":"quantitative","scale":{"type":"linear","domain":[0,621],"range":[0,621],"nice":false,"zero":false}}}},
 {"mark":{"type":"text","text":"q","font":"DejaVu Sans","fontSize":15.5,"color":"#333333"},"encoding":{"x":{"datum":983,"type":"quantitative","scale":{"type":"linear","domain":[0,1088],"range":[0,1088],"nice":false,"zero":false}},"y":{"datum":579,"type":"quantitative","scale":{"type":"linear","domain":[0,621],"range":[0,621],"nice":false,"zero":false}}}}
]}
],
"resolve":{"scale":{"x":"independent","y":"independent","color":"independent","stroke":"independent"}}
}
